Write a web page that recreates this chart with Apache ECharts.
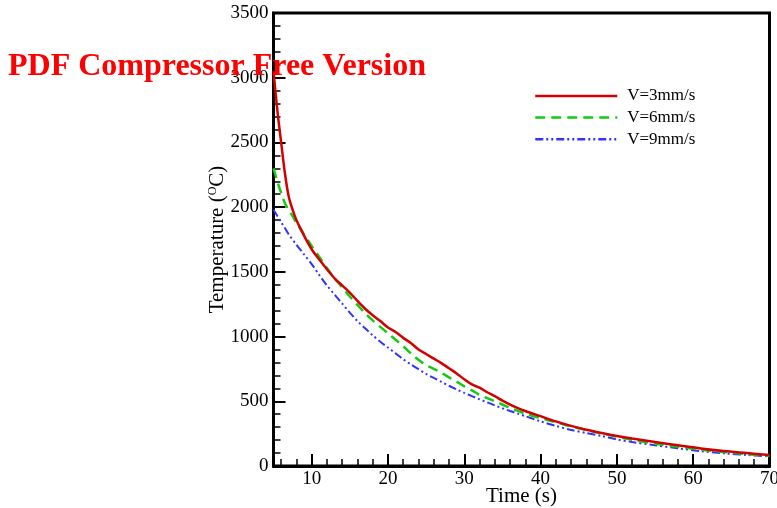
<!DOCTYPE html>
<html>
<head>
<meta charset="utf-8">
<script src="https://cdn.jsdelivr.net/npm/echarts@6/dist/echarts.min.js"></script>
<style>html,body{margin:0;padding:0;background:#fff}#c{width:777px;height:508px}</style>
</head>
<body>
<div id="c"></div>
<script>
var seriesNames = ['V=3mm/s', 'V=6mm/s', 'V=9mm/s'];

var timeRed = [5, 5.5, 6, 6.5, 7, 7.5, 8, 9, 10, 11, 12, 13, 14, 15, 16, 17, 18, 19, 20, 21, 22, 23, 24, 25, 26, 27, 28, 29, 30, 31, 32, 33, 34, 35, 36, 38, 40, 42, 44, 46, 48, 50, 52, 55, 58, 61, 64, 67, 70];
var tempRed = [3050, 2750, 2500, 2260, 2080, 1980, 1900, 1780, 1675, 1595, 1520, 1450, 1395, 1340, 1275, 1215, 1165, 1120, 1070, 1035, 990, 950, 900, 865, 830, 795, 755, 715, 670, 630, 605, 570, 540, 505, 475, 425, 385, 345, 310, 280, 255, 232, 212, 185, 160, 135, 115, 100, 85];

var timeGreen = [5, 5.5, 6, 6.5, 7, 7.5, 8, 9, 10, 11, 12, 13, 14, 15, 16, 17, 18, 19, 20, 21, 22, 23, 24, 25, 26, 27, 28, 29, 30, 31, 32, 33, 34, 35, 36, 38, 40, 42, 44, 46, 48, 50, 52, 55, 58, 61, 64, 67, 70];
var tempGreen = [2300, 2200, 2110, 2030, 1975, 1930, 1880, 1790, 1700, 1615, 1530, 1450, 1380, 1310, 1245, 1180, 1125, 1075, 1025, 975, 925, 870, 820, 780, 750, 720, 685, 652, 615, 585, 550, 525, 500, 475, 450, 405, 370, 338, 305, 278, 252, 226, 203, 172, 148, 126, 108, 92, 78];

var timeBlue = [5, 6, 7, 8, 9, 10, 11, 12, 13, 14, 15, 16, 17, 18, 19, 20, 21, 22, 23, 24, 25, 26, 27, 28, 29, 30, 31, 32, 33, 34, 35, 36, 37, 38, 40, 42, 44, 46, 48, 50, 52, 55, 58, 61, 64, 67, 70];
var tempBlue = [1980, 1885, 1790, 1710, 1635, 1560, 1475, 1395, 1325, 1255, 1185, 1120, 1065, 1010, 960, 915, 870, 825, 785, 748, 712, 680, 650, 620, 592, 565, 540, 515, 492, 468, 446, 425, 405, 385, 345, 310, 278, 255, 232, 205, 185, 160, 137, 115, 98, 85, 75];

var xMajorTicks = [10, 20, 30, 40, 50, 60, 70];
var xMinorTicks = [6, 8, 12, 14, 16, 18, 22, 24, 26, 28, 32, 34, 36, 38, 42, 44, 46, 48, 52, 54, 56, 58, 62, 64, 66, 68];
var yTickLabels = [0, 500, 1000, 1500, 2000, 2500, 3000, 3500];

var xTitle = 'Time (s)';
var yTitle = 'Temperature ({sup|O}C)';
var watermark = 'PDF Compressor Free Version';

function pairs(xs, ys) { return xs.map(function (x, i) { return [x, ys[i]]; }); }

var serif = 'Liberation Serif';
var chart = echarts.init(document.getElementById('c'), null, { renderer: 'canvas' });
chart.setOption({
  animation: false,
  backgroundColor: '#fff',
  grid: { left: 273.5, right: 7.5, top: 13, bottom: 42, show: true, borderColor: '#000', borderWidth: 3,
    backgroundColor: 'transparent', containLabel: false, outerBoundsMode: 'none' },
  legend: {
    orient: 'vertical', left: 534, top: 87, padding: 0,
    itemWidth: 82, itemHeight: 14, itemGap: 3.6,
    data: seriesNames,
    itemStyle: { opacity: 0, borderWidth: 0 },
    lineStyle: { width: 2.5 },
    textStyle: { fontFamily: serif, fontSize: 17, color: '#000', lineHeight: 18, padding: [0, 0, 0, 5] }
  },
  xAxis: [{
    type: 'value', min: 5, max: 70, position: 'bottom',
    name: xTitle, nameLocation: 'middle', nameGap: 20, nameMoveOverlap: false,
    nameTextStyle: { fontFamily: serif, fontSize: 21, color: '#000' },
    axisLine: { show: true, lineStyle: { color: '#000', width: 3 } },
    axisTick: { show: true, inside: true, length: 12, lineStyle: { color: '#000', width: 2 }, customValues: xMajorTicks },
    axisLabel: { fontFamily: serif, fontSize: 19, color: '#000', margin: 4, customValues: xMajorTicks },
    splitLine: { show: false }
  }, {
    type: 'value', min: 5, max: 70, position: 'bottom', gridIndex: 0,
    axisLine: { show: false },
    axisTick: { show: true, inside: true, length: 7, lineStyle: { color: '#000', width: 1.5 }, customValues: xMinorTicks },
    axisLabel: { show: false },
    splitLine: { show: false }
  }],
  yAxis: {
    type: 'value', min: 0, max: 3500, interval: 500,
    name: yTitle, nameLocation: 'middle', nameGap: 45, nameRotate: 90, nameMoveOverlap: false,
    nameTextStyle: { fontFamily: serif, fontSize: 21, color: '#000',
      rich: { sup: { fontFamily: serif, fontSize: 12, color: '#000', verticalAlign: 'top', padding: [0, 0, 10, 0] } } },
    axisLine: { show: true, lineStyle: { color: '#000', width: 3 } },
    axisTick: { show: true, inside: true, length: 12, lineStyle: { color: '#000', width: 2 } },
    minorTick: { show: true, splitNumber: 5, length: 7, lineStyle: { color: '#000', width: 1.5 } },
    axisLabel: { fontFamily: serif, fontSize: 19, color: '#000', margin: 5, padding: [4, 0, 0, 0],
      customValues: yTickLabels, formatter: function (v) { return String(v); } },
    splitLine: { show: false }
  },
  series: [
    { name: seriesNames[0], type: 'line', data: pairs(timeRed, tempRed), showSymbol: false, symbol: 'none', smooth: 0.3, z: 4,
      lineStyle: { color: '#d40000', width: 2.5 }, itemStyle: { color: '#d40000' } },
    { name: seriesNames[1], type: 'line', data: pairs(timeGreen, tempGreen), showSymbol: false, symbol: 'none', smooth: 0.3, z: 3,
      lineStyle: { color: '#11cc11', width: 2.5, type: [10, 6] }, itemStyle: { color: '#11cc11' } },
    { name: seriesNames[2], type: 'line', data: pairs(timeBlue, tempBlue), showSymbol: false, symbol: 'none', smooth: 0.3, z: 2,
      lineStyle: { color: '#3333ff', width: 2, type: [8, 3, 2, 3, 2, 3] }, itemStyle: { color: '#3333ff' } }
  ],
  graphic: [{
    type: 'text', left: 8, top: 51, z: 100,
    style: { text: watermark, fontFamily: serif, fontWeight: 'bold', fontSize: 32, fill: '#ff0000' }
  }]
});
</script>
</body>
</html>
